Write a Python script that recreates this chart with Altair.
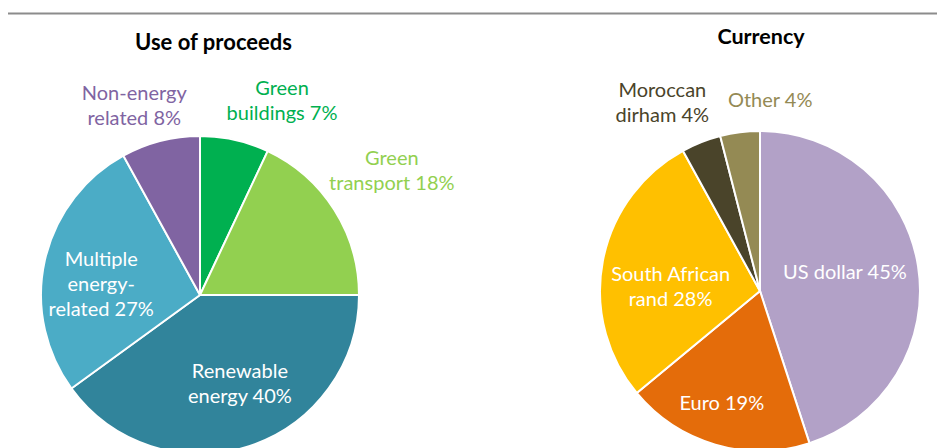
import math
import altair as alt
import pandas as pd

# ---- data ----
proceeds_cat = ["Green buildings", "Green transport", "Renewable energy",
                "Multiple energy-related", "Non-energy related"]
proceeds_val = [7, 18, 40, 27, 8]
proceeds_lbl = ["Green\nbuildings 7%", "Green\ntransport 18%", "Renewable\nenergy 40%",
                "Multiple\nenergy-\nrelated 27%", "Non-energy\nrelated 8%"]

currency_cat = ["US dollar", "Euro", "South African rand", "Moroccan dirham", "Other"]
currency_val = [45, 19, 28, 4, 4]
currency_lbl = ["US dollar 45%", "Euro 19%", "South African\nrand 28%",
                "Moroccan\ndirham 4%", "Other 4%"]

titles = ["Use of proceeds", "Currency"]

# ---- styles ----
proceeds_colors = ["#00B050", "#92D050", "#31849B", "#4BACC6", "#8064A2"]
currency_colors = ["#B2A1C7", "#E46C0A", "#FFC000", "#4A442A", "#948A54"]

# per label: (radius, dx, dy, text colour)
proceeds_label_style = [
    (211, 36, -0.5, "#00B050"),
    (242, -12.5, -6.5, "#92D050"),
    (100, 9, -18.5, "white"),
    (92, -9, -15, "white"),
    (200, -16, -7.5, "#8064A2"),
]
currency_label_style = [
    (87, -1, -4, "white"),
    (119, -5, -1, "white"),
    (90, -1, 0.5, "white"),
    (211, -20, -3.5, "#4A442A"),
    (190, 34, -1.5, "#948A54"),
]

FONT = "Lato"
FS = 20
W, H = 929, 445


def pie(cats, vals, lbls, colors, styles, cx, cy, r):
    df = pd.DataFrame({"idx": list(range(len(cats))), "cat": cats,
                       "value": vals, "label": lbls})
    base = alt.Chart(df)
    arc = base.mark_arc(radius=r, stroke="white", strokeWidth=2).encode(
        theta=alt.Theta("value:Q", stack=True),
        order=alt.Order("idx:Q"),
        color=alt.Color("cat:N", scale=alt.Scale(domain=cats, range=colors), legend=None),
        x=alt.value(cx),
        y=alt.value(cy),
    )
    layers = [arc]
    for cat, (rad, dx, dy, col) in zip(cats, styles):
        t = (
            base.transform_joinaggregate(total="sum(value)")
            .transform_window(cum="sum(value)", sort=[alt.SortField("idx")], frame=[None, 0])
            .transform_calculate(mid="(datum.cum - datum.value / 2) / datum.total")
            .transform_filter(alt.datum.cat == cat)
            .mark_text(radius=rad, dx=dx, dy=dy, color=col, font=FONT, fontSize=FS,
                       lineBreak="\n", lineHeight=25, align="center", baseline="middle")
            .encode(
                theta=alt.Theta("mid:Q", scale=alt.Scale(domain=[0, 1], range=[0, 2 * math.pi])),
                text="label:N",
                x=alt.value(cx),
                y=alt.value(cy),
            )
        )
        layers.append(t)
    return layers


one = pd.DataFrame({"a": [0]})
rule = alt.Chart(one).mark_rule(color="#8c8c8c", strokeWidth=2).encode(
    x=alt.value(-1), x2=alt.value(W + 10), y=alt.value(5.5))

tdf = pd.DataFrame({"t": titles})
title_l = alt.Chart(tdf).transform_filter(alt.datum.t == titles[0]).mark_text(
    font=FONT, fontSize=22, fontWeight="bold", color="black", align="center",
    baseline="middle").encode(text="t:N", x=alt.value(205.5), y=alt.value(35))
title_r = alt.Chart(tdf).transform_filter(alt.datum.t == titles[1]).mark_text(
    font=FONT, fontSize=21.5, fontWeight="bold", color="black", align="center",
    baseline="middle").encode(text="t:N", x=alt.value(753), y=alt.value(30))

layers = [rule, title_l, title_r]
layers += pie(proceeds_cat, proceeds_val, proceeds_lbl, proceeds_colors,
              proceeds_label_style, 192, 287, 159)
layers += pie(currency_cat, currency_val, currency_lbl, currency_colors,
              currency_label_style, 752, 283, 160)

chart = (
    alt.layer(*layers)
    .resolve_scale(theta="independent", color="independent")
    .properties(width=W, height=H, autosize=alt.AutoSizeParams(type="none"),
                padding=0, background="white")
    .configure_view(stroke=None)
)

chart.save("out.html", embed_options={"renderer": "svg", "actions": False})
